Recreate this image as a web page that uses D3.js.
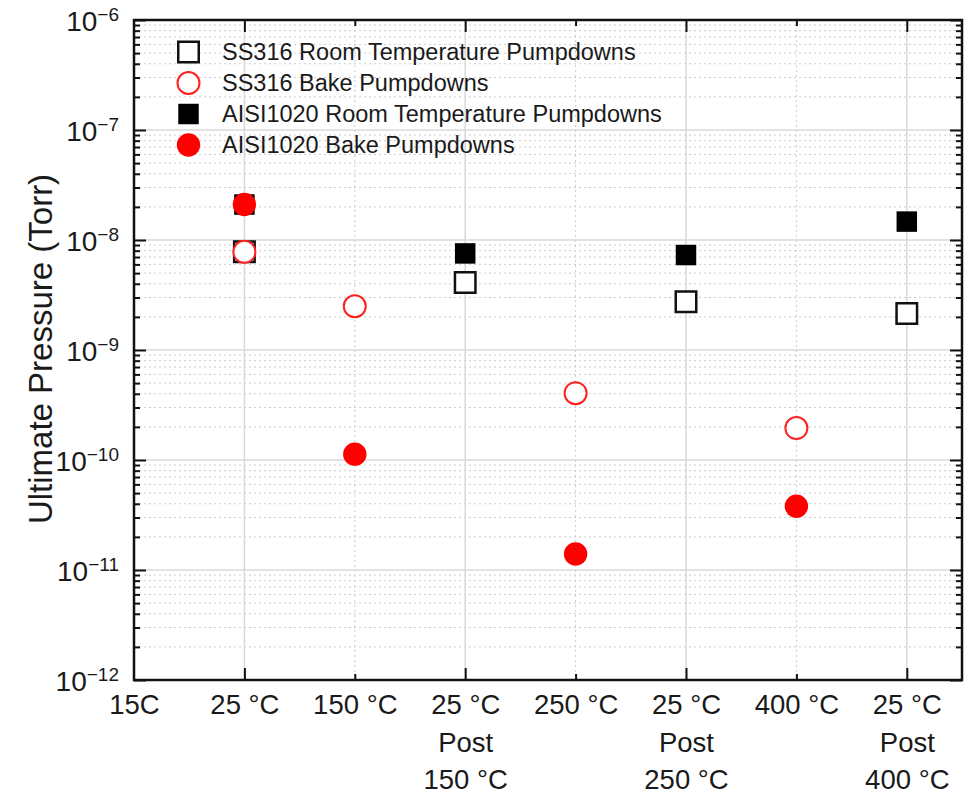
<!DOCTYPE html>
<html lang="en">
<script src="https://d3js.org/d3.v7.min.js"></script>
<style>
  body { margin: 0; background: white; }
  svg { display: block; font-family: "Liberation Sans", Arial, sans-serif; }
  .grid-major { stroke: #d9d9d9; stroke-width: 1.5; }
  .grid-minor { stroke: #cccccc; stroke-width: 1; stroke-dasharray: 2,3; }
</style>
<body>
<svg id="chart" width="972" height="794"></svg>
<script>
  // x categories (index 0 is the empty left edge "15C")
  var tickLabels = [
    ["15C"], ["25 °C"], ["150 °C"], ["25 °C", "Post", "150 °C"],
    ["250 °C"], ["25 °C", "Post", "250 °C"], ["400 °C"], ["25 °C", "Post", "400 °C"]
  ];
  var majorIdx = [1, 3, 5, 7];
  var minorIdx = [2, 4, 6];

  var decades = [-12, -11, -10, -9, -8, -7, -6];

  var ss316RoomX = [1, 3, 5, 7];
  var ss316RoomY = [7.8e-9, 4.1e-9, 2.75e-9, 2.15e-9];
  var ss316BakeX = [1, 2, 4, 6];
  var ss316BakeY = [7.8e-9, 2.5e-9, 4.05e-10, 1.95e-10];
  var aisiRoomX = [1, 3, 5, 7];
  var aisiRoomY = [2.1e-8, 7.55e-9, 7.3e-9, 1.47e-8];
  var aisiBakeX = [1, 2, 4, 6];
  var aisiBakeY = [2.1e-8, 1.13e-10, 1.4e-11, 3.8e-11];

  var svg = d3.select("#chart");
  var pL = 134, pR = 962, pT = 20, pB = 680;
  var textCol = "#1a1a1a";

  var x = d3.scaleLinear().domain([0, 7.5]).range([pL, pR]);
  var y = d3.scaleLog().domain([1e-12, 1e-6]).range([pB, pT]);

  var majorY = decades.map(function(d) { return Math.pow(10, d); });
  var minorY = [];
  decades.slice(0, -1).forEach(function(d) {
    for (var k = 2; k <= 9; k++) minorY.push(k * Math.pow(10, d));
  });

  // grid
  var grid = svg.append("g");
  grid.selectAll(".hmin").data(minorY).enter().append("line")
    .attr("class", "grid-minor")
    .attr("x1", pL).attr("x2", pR)
    .attr("y1", function(d) { return y(d); }).attr("y2", function(d) { return y(d); });
  grid.selectAll(".vmin").data(minorIdx).enter().append("line")
    .attr("class", "grid-minor")
    .attr("y1", pT).attr("y2", pB)
    .attr("x1", function(d) { return x(d); }).attr("x2", function(d) { return x(d); });
  grid.selectAll(".hmaj").data(majorY.slice(1, -1)).enter().append("line")
    .attr("class", "grid-major")
    .attr("x1", pL).attr("x2", pR)
    .attr("y1", function(d) { return y(d); }).attr("y2", function(d) { return y(d); });
  grid.selectAll(".vmaj").data(majorIdx).enter().append("line")
    .attr("class", "grid-major")
    .attr("y1", pT).attr("y2", pB)
    .attr("x1", function(d) { return x(d); }).attr("x2", function(d) { return x(d); });

  // axes
  function styleAxis(g) {
    g.select(".domain").remove();
    g.selectAll(".tick line").attr("stroke", "#111").attr("stroke-width", 2);
  }

  var yl = svg.append("g").attr("transform", "translate(" + pL + ",0)")
    .call(d3.axisLeft(y).tickValues(majorY).tickSize(-12).tickPadding(15).tickFormat(""));
  styleAxis(yl);
  yl.selectAll(".tick text")
    .attr("fill", textCol).attr("font-size", 28).attr("dy", "0.38em")
    .attr("text-anchor", "end")
    .each(function(d) {
      var t = d3.select(this);
      t.append("tspan").text("10");
      t.append("tspan").attr("dy", -10).attr("font-size", 19)
        .text("\u2212" + Math.round(-Math.log10(d)));
    });
  styleAxis(svg.append("g").attr("transform", "translate(" + pL + ",0)")
    .call(d3.axisLeft(y).tickValues(minorY).tickSize(-6).tickFormat("")));
  styleAxis(svg.append("g").attr("transform", "translate(" + pR + ",0)")
    .call(d3.axisRight(y).tickValues(majorY).tickSize(-12).tickFormat("")));
  styleAxis(svg.append("g").attr("transform", "translate(" + pR + ",0)")
    .call(d3.axisRight(y).tickValues(minorY).tickSize(-6).tickFormat("")));

  var xb = svg.append("g").attr("transform", "translate(0," + pB + ")")
    .call(d3.axisBottom(x).tickValues(d3.range(tickLabels.length)).tickSize(0).tickPadding(0).tickFormat(""));
  styleAxis(xb);
  xb.selectAll(".tick text")
    .attr("fill", textCol).attr("font-size", 27.5).attr("dy", 0)
    .each(function(d) {
      var t = d3.select(this);
      tickLabels[d].forEach(function(s, i) {
        t.append("tspan").attr("x", 0).attr("y", 34 + i * 37.5).text(s);
      });
    });
  styleAxis(svg.append("g").attr("transform", "translate(0," + pB + ")")
    .call(d3.axisBottom(x).tickValues(majorIdx).tickSize(-12).tickFormat("")));
  styleAxis(svg.append("g").attr("transform", "translate(0," + pB + ")")
    .call(d3.axisBottom(x).tickValues(minorIdx).tickSize(-6).tickFormat("")));
  styleAxis(svg.append("g").attr("transform", "translate(0," + pT + ")")
    .call(d3.axisTop(x).tickValues(majorIdx).tickSize(-12).tickFormat("")));
  styleAxis(svg.append("g").attr("transform", "translate(0," + pT + ")")
    .call(d3.axisTop(x).tickValues(minorIdx).tickSize(-6).tickFormat("")));

  // frame
  svg.append("rect")
    .attr("x", pL).attr("y", pT).attr("width", pR - pL).attr("height", pB - pT)
    .attr("fill", "none").attr("stroke", "#111").attr("stroke-width", 2.5);

  // y title
  svg.append("text")
    .attr("transform", "translate(52,349) rotate(-90)")
    .attr("text-anchor", "middle").attr("font-size", 33).attr("fill", textCol)
    .text("Ultimate Pressure (Torr)");

  // markers
  var sq = d3.symbol().type(d3.symbolSquare);
  var ci = d3.symbol().type(d3.symbolCircle);
  var series = [
    { xs: ss316RoomX, ys: ss316RoomY, sym: sq, size: 420, fill: "white", stroke: "#111", sw: 2.5, name: "SS316 Room Temperature Pumpdowns" },
    { xs: ss316BakeX, ys: ss316BakeY, sym: ci, size: 380, fill: "white", stroke: "#ff2020", sw: 2, name: "SS316 Bake Pumpdowns" },
    { xs: aisiRoomX, ys: aisiRoomY, sym: sq, size: 420, fill: "#000", stroke: "none", sw: 0, name: "AISI1020 Room Temperature Pumpdowns" },
    { xs: aisiBakeX, ys: aisiBakeY, sym: ci, size: 430, fill: "#ff0000", stroke: "none", sw: 0, name: "AISI1020 Bake Pumpdowns" }
  ];
  series.forEach(function(s) {
    svg.append("g").selectAll("path")
      .data(s.ys)
      .enter().append("path")
      .attr("transform", function(d, i) { return "translate(" + x(s.xs[i]) + "," + y(d) + ")"; })
      .attr("d", s.sym.size(s.size)())
      .attr("fill", s.fill).attr("stroke", s.stroke).attr("stroke-width", s.sw);
  });

  // legend
  var lg = svg.append("g");
  series.forEach(function(s, i) {
    var cy = 52 + i * 31;
    lg.append("path")
      .attr("transform", "translate(188.5," + cy + ")")
      .attr("d", s.sym.size(s.size)())
      .attr("fill", s.fill).attr("stroke", s.stroke).attr("stroke-width", s.sw);
    lg.append("text").attr("x", 222).attr("y", cy).attr("dy", "0.36em")
      .attr("font-size", 23.5).attr("fill", textCol).text(s.name);
  });
</script>
</body>
</html>
